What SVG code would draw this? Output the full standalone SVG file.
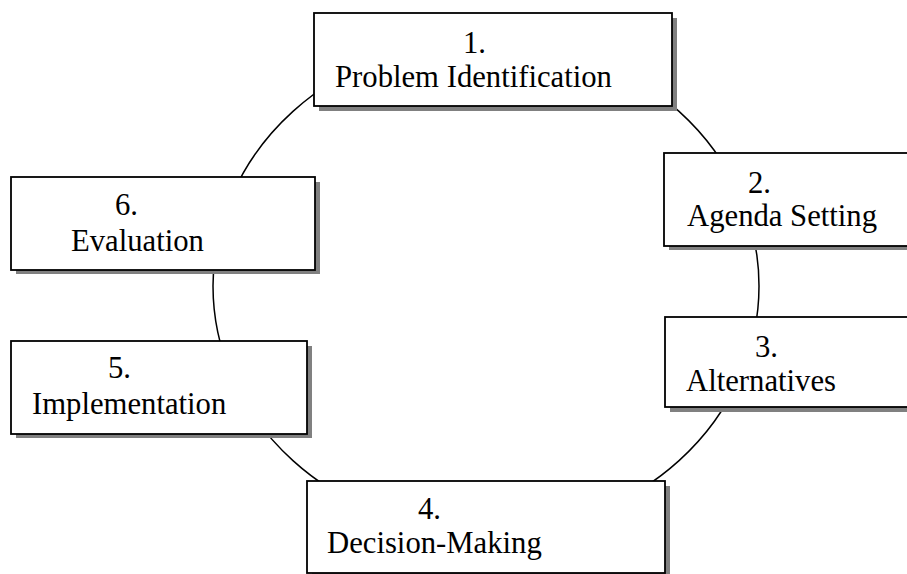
<svg xmlns="http://www.w3.org/2000/svg" width="907" height="574" viewBox="0 0 907 574">
  <style>
    .shadow { fill: #808080; }
    .box { fill: #ffffff; stroke: #000000; stroke-width: 1.8; }
    .label { font-family: "Liberation Serif", "Times New Roman", serif; font-size: 30.7px; fill: #000000; }
    .cycle { fill: none; stroke: #000000; stroke-width: 1.5; }
  </style>
  <rect width="907" height="574" fill="#ffffff"/>

  <!-- policy cycle ring joining the stages -->
  <g id="connectors">
    <ellipse class="cycle" cx="486" cy="286" rx="273" ry="247"/>
  </g>

  <g id="stage1">
    <rect class="shadow" x="319" y="18" width="358" height="93"/>
    <rect class="box" x="314" y="13" width="358" height="93"/>
    <text class="label" x="463" y="53">1.</text>
    <text class="label" x="335" y="87">Problem Identification</text>
  </g>

  <g id="stage2">
    <rect class="shadow" x="669" y="158" width="260" height="92"/>
    <rect class="box" x="664" y="153" width="260" height="93"/>
    <text class="label" x="748" y="193">2.</text>
    <text class="label" x="687" y="226">Agenda Setting</text>
  </g>

  <g id="stage3">
    <rect class="shadow" x="670" y="322" width="260" height="90"/>
    <rect class="box" x="665" y="317" width="260" height="90"/>
    <text class="label" x="755" y="357">3.</text>
    <text class="label" x="686" y="391">Alternatives</text>
  </g>

  <g id="stage4">
    <rect class="shadow" x="312" y="486" width="358" height="92"/>
    <rect class="box" x="307" y="481" width="358" height="92"/>
    <text class="label" x="418" y="519">4.</text>
    <text class="label" x="327" y="553">Decision-Making</text>
  </g>

  <g id="stage5">
    <rect class="shadow" x="16" y="346" width="296" height="92"/>
    <rect class="box" x="11" y="341" width="296" height="93"/>
    <text class="label" x="108" y="378">5.</text>
    <text class="label" x="32" y="414">Implementation</text>
  </g>

  <g id="stage6">
    <rect class="shadow" x="16" y="182" width="304" height="92"/>
    <rect class="box" x="11" y="177" width="304" height="93"/>
    <text class="label" x="115" y="215">6.</text>
    <text class="label" x="71" y="251">Evaluation</text>
  </g>
</svg>
